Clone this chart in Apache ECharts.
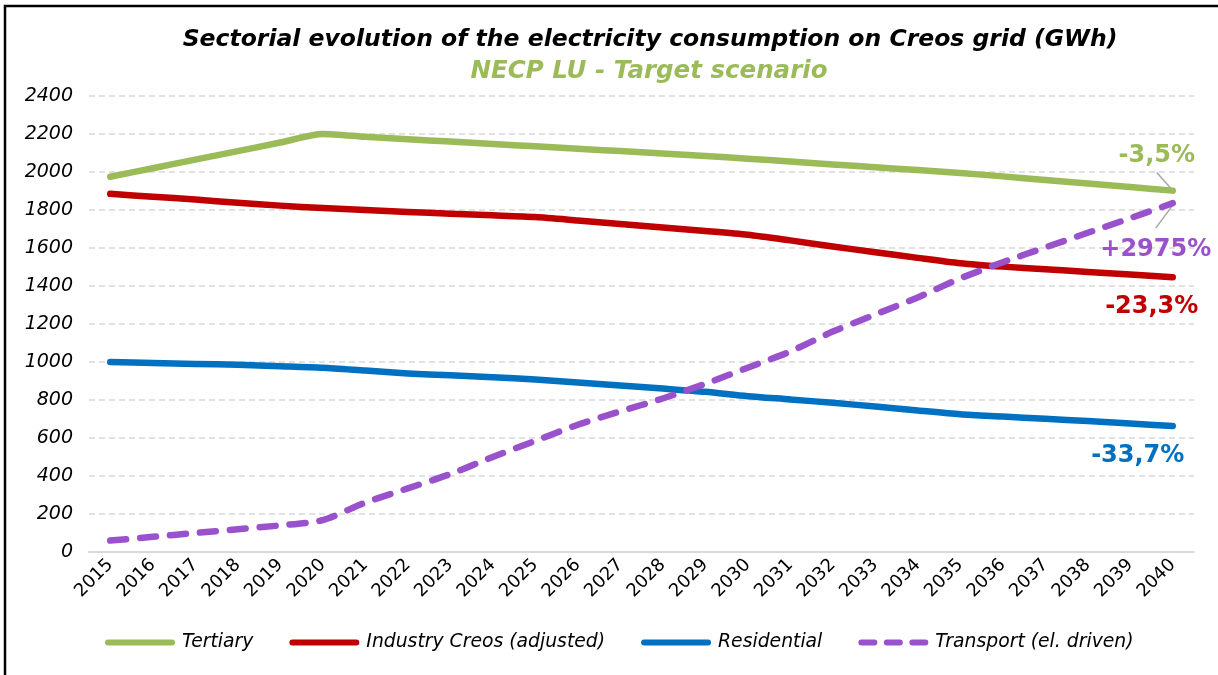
<!DOCTYPE html>
<html><head><meta charset="utf-8">
<script src="https://cdn.jsdelivr.net/npm/echarts@6/dist/echarts.min.js"></script>
<style>html,body{margin:0;padding:0;background:#fff}#c{width:1218px;height:675px}</style>
</head><body><div id="c"></div>
<script>
const years = ['2015','2016','2017','2018','2019','2020','2021','2022','2023','2024','2025','2026','2027','2028','2029','2030','2031','2032','2033','2034','2035','2036','2037','2038','2039','2040'];
const tertiary = [1975,2020,2065,2110,2155,2200,2185,2172,2160,2147,2135,2122,2110,2097,2084,2070,2055,2040,2025,2010,1995,1977,1958,1940,1921,1902];
const industry = [1885,1870,1855,1838,1823,1810,1800,1790,1780,1772,1763,1745,1726,1708,1690,1670,1640,1608,1578,1548,1520,1502,1488,1474,1460,1446];
const residential = [1000,995,990,985,978,970,955,940,930,920,908,892,876,860,843,820,803,785,766,745,725,713,701,689,676,663];
const transport = [60,80,100,120,140,168,260,335,410,500,585,670,740,808,885,970,1055,1160,1250,1340,1440,1525,1603,1680,1757,1836];
const seriesNames = ['Tertiary','Industry Creos (adjusted)','Residential','Transport (el. driven)'];
const changeLabels = ['-3,5%','-23,3%','-33,7%','+2975%'];
const colors = ['#9BBB59','#C00000','#0070C0','#9A52CC'];
const titleText = 'Sectorial evolution of the electricity consumption on Creos grid (GWh)';
const subtitleText = 'NECP LU - Target scenario';

const FONT = 'DejaVu Sans';
const chart = echarts.init(document.getElementById('c'), null, {renderer:'canvas'});
const data = [tertiary, industry, residential, transport];
const series = data.map((d,i)=>({
  name: seriesNames[i], type:'line', data:d, smooth:0.25, symbol:'none', z: i===3?5:3,
  lineStyle:{color:colors[i], width:6.5, cap:'round', join:'round', type: i===3?[16,14]:'solid'},
  itemStyle:{color:colors[i]}
}));
const solidIcon = 'path://M3,0 H67 A3,3 0 0 1 67,6 H3 A3,3 0 0 1 3,0 Z';
const dashIcon = 'path://M3,0 H16 A3,3 0 0 1 16,6 H3 A3,3 0 0 1 3,0 Z M28.5,0 H41.5 A3,3 0 0 1 41.5,6 H28.5 A3,3 0 0 1 28.5,0 Z M54,0 H67 A3,3 0 0 1 67,6 H54 A3,3 0 0 1 54,0 Z';
chart.setOption({
  animation:false,
  grid:{left:89, right:24, top:96, bottom:123, containLabel:false},
  xAxis:{type:'category', data:years, boundaryGap:true,
    axisLine:{show:true, lineStyle:{color:'#d9d9d9', width:2}}, axisTick:{show:false},
    axisLabel:{rotate:45, fontFamily:FONT, fontSize:18, color:'#000', margin:10, interval:0}},
  yAxis:{type:'value', min:0, max:2400, interval:200,
    axisLine:{show:false}, axisTick:{show:false},
    axisLabel:{fontFamily:FONT, fontStyle:'italic', fontSize:19, color:'#000', margin:16, formatter:v=>String(v)},
    splitLine:{lineStyle:{color:'#d9d9d9', width:1.5, type:[6,4]}}},
  legend:{left:100, top:628, itemWidth:70, itemHeight:6, itemGap:36,
    textStyle:{fontFamily:FONT, fontStyle:'italic', fontSize:18.8, color:'#000', padding:[0,0,0,2]},
    data:seriesNames.map((n,i)=>({name:n, icon: i===3?dashIcon:solidIcon, itemStyle:{color:colors[i]}}))},
  series:series
});

const last = years.length-1;
const offs = [[-16,-35],[-21,30],[-35,30],[-17,47]];
const g = [
  {type:'polyline', shape:{points:[[5,700],[5,6],[1300,6]]}, style:{fill:null, stroke:'#000', lineWidth:2.5}, silent:true},
  {type:'text', x:650, y:40, style:{text:titleText, fontFamily:FONT, fontWeight:'bold', fontStyle:'italic', fontSize:23.5, fill:'#000', align:'center', verticalAlign:'middle'}},
  {type:'text', x:649, y:72, style:{text:subtitleText, fontFamily:FONT, fontWeight:'bold', fontStyle:'italic', fontSize:24.5, fill:colors[0], align:'center', verticalAlign:'middle'}}
];
const ends = data.map(d=>chart.convertToPixel({xAxisIndex:0,yAxisIndex:0},[last,d[last]]));
data.forEach((d,i)=>{
  const p = ends[i];
  g.push({type:'text', x:p[0]+offs[i][0], y:p[1]+offs[i][1], style:{text:changeLabels[i], fontFamily:FONT, fontWeight:'bold', fontSize:24, fill:colors[i], align:'center', verticalAlign:'middle'}});
});
g.push({type:'line', shape:{x1:ends[0][0]-16, y1:ends[0][1]-18, x2:ends[0][0], y2:ends[0][1]}, style:{stroke:'#a6a6a6', lineWidth:1.5}});
g.push({type:'line', shape:{x1:ends[3][0]-17, y1:ends[3][1]+25, x2:ends[3][0], y2:ends[3][1]+2}, style:{stroke:'#a6a6a6', lineWidth:1.5}});
chart.setOption({graphic:g});
</script></body></html>
